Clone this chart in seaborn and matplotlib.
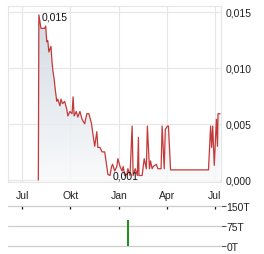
import matplotlib
matplotlib.use("Agg")
import matplotlib.pyplot as plt
import matplotlib.dates as mdates
from matplotlib.colors import LinearSegmentedColormap
import numpy as np
import pandas as pd
import seaborn as sns

# ---------------- data ----------------
price_dates = [
    "2023-08-01", "2023-08-02", "2023-08-06", "2023-08-13", "2023-08-15", "2023-08-17",
    "2023-08-19", "2023-08-21", "2023-08-25", "2023-08-27", "2023-08-29", "2023-08-31",
    "2023-09-02", "2023-09-05", "2023-09-07", "2023-09-11", "2023-09-13", "2023-09-16",
    "2023-09-20", "2023-09-24", "2023-09-26", "2023-09-30", "2023-10-04", "2023-10-06",
    "2023-10-08", "2023-10-12", "2023-10-15", "2023-10-19", "2023-10-23", "2023-10-28",
    "2023-11-01", "2023-11-05", "2023-11-10", "2023-11-12", "2023-11-16", "2023-11-20",
    "2023-11-22", "2023-11-26", "2023-11-30", "2023-12-05", "2023-12-09", "2023-12-11",
    "2023-12-15", "2023-12-18", "2023-12-20", "2023-12-24", "2023-12-28", "2023-12-30",
    "2024-01-03", "2024-01-07", "2024-01-09", "2024-01-12", "2024-01-16", "2024-01-18",
    "2024-01-22", "2024-01-26", "2024-01-28", "2024-02-01", "2024-02-05", "2024-02-07",
    "2024-02-08", "2024-02-14", "2024-02-18", "2024-02-22", "2024-02-24", "2024-02-28",
    "2024-03-01", "2024-03-04", "2024-03-06", "2024-03-12", "2024-03-15", "2024-03-21",
    "2024-03-23", "2024-03-27", "2024-03-29", "2024-04-02", "2024-04-04", "2024-04-08",
    "2024-06-19", "2024-06-23", "2024-06-25", "2024-06-27", "2024-06-30", "2024-07-04",
    "2024-07-06", "2024-07-07", "2024-07-11",
]
price_values = [
    0.0000, 0.0147, 0.0135, 0.0135, 0.0137, 0.0123,
    0.0124, 0.0114, 0.0119, 0.0105, 0.0096, 0.0090,
    0.0081, 0.0070, 0.0072, 0.0066, 0.0072, 0.0068,
    0.0070, 0.0063, 0.0057, 0.0061, 0.0059, 0.0074,
    0.0057, 0.0061, 0.0056, 0.0061, 0.0054, 0.0050,
    0.0059, 0.0059, 0.0050, 0.0043, 0.0030, 0.0043,
    0.0029, 0.0029, 0.0025, 0.0025, 0.0012, 0.0005,
    0.0004, 0.0012, 0.0014, 0.0008, 0.0012, 0.0019,
    0.0012, 0.0008, 0.0012, 0.0004, 0.0005, 0.0010,
    0.0004, 0.0048, 0.0004, 0.0010, 0.0004, 0.0038,
    0.0004, 0.0004, 0.0019, 0.0010, 0.0048, 0.0010,
    0.0017, 0.0010, 0.0012, 0.0014, 0.0010, 0.0010,
    0.0048, 0.0010, 0.0045, 0.0048, 0.0048, 0.0009,
    0.0009, 0.0048, 0.0029, 0.0048, 0.0013, 0.0054,
    0.0030, 0.0059, 0.0059,
]
volume_dates = ["2024-01-18", "2024-02-08"]
volume_values = [98000, 2500]
volume_colors = ["#1f8f1f", "#c0392b"]

month_ticks = ["2023-07-01", "2023-10-01", "2024-01-01", "2024-04-01", "2024-07-01"]
month_labels = ["Jul", "Okt", "Jan", "Apr", "Jul"]
price_ticks = [0.000, 0.005, 0.010, 0.015]
price_tick_labels = ["0,000", "0,005", "0,010", "0,015"]
volume_ticks = [0, 75000, 150000]
volume_tick_labels = ["0T", "75T", "150T"]
max_label = "0,015"
min_label = "0,001"

# ---------------- style ----------------
sns.set_style("white")
plt.rcParams["font.family"] = ["Liberation Sans", "DejaVu Sans"]
plt.rcParams["font.size"] = 7.5

df = pd.DataFrame({"date": pd.to_datetime(price_dates), "price": price_values})
vdf = pd.DataFrame({"date": pd.to_datetime(volume_dates), "volume": volume_values,
                    "color": volume_colors})

W, H = 264, 255
fig = plt.figure(figsize=(W / 100, H / 100), dpi=100)
ax = fig.add_axes([8 / W, 1 - 183 / H, 213 / W, 176 / H])
ax2 = fig.add_axes([8 / W, 1 - 247.3 / H, 213 / W, 40 / H])

x_left = pd.Timestamp("2023-06-04 10:00")
x_right = pd.Timestamp("2024-07-12 18:00")
y_lo, y_hi = -0.00018, 0.01549

line_color = "#c43a3a"
grid_color = "#e6e6e6"

# gradient fill under line
xnum = mdates.date2num(df["date"])
coll = ax.fill_between(xnum, df["price"], y_lo, facecolor="none", edgecolor="none")
clip_path = coll.get_paths()[0]
grad = np.linspace(0, 1, 256).reshape(-1, 1)
cmap = LinearSegmentedColormap.from_list("g", ["#f9fafb", "#c7d3dd"])
im = ax.imshow(grad, extent=[mdates.date2num(x_left), mdates.date2num(x_right), y_lo, y_hi],
               origin="lower", aspect="auto", cmap=cmap, zorder=1, alpha=0.85)
im.set_clip_path(clip_path, transform=ax.transData)

sns.lineplot(data=df, x="date", y="price", ax=ax, color=line_color, linewidth=0.9,
             zorder=3, sort=False)

ax.set_xlim(x_left, x_right)
ax.set_ylim(y_lo, y_hi)
ax.set_xlabel("")
ax.set_ylabel("")

ax.set_xticks(pd.to_datetime(month_ticks))
ax.set_xticklabels(month_labels)
ax.set_yticks(price_ticks)
ax.set_yticklabels(price_tick_labels)
ax.yaxis.tick_right()
ax.tick_params(axis="both", length=0, colors="#222222", labelsize=7.5)
ax.tick_params(axis="y", pad=3.5)
ax.tick_params(axis="x", pad=6)
ax.grid(True, color=grid_color, linewidth=0.8)
ax.set_axisbelow(True)
for s in ax.spines.values():
    s.set_color(grid_color)
    s.set_linewidth(0.8)

# max / min labels
imax = int(np.argmax(price_values))
nonzero = [v if v > 0 else np.inf for v in price_values]
imin = int(np.argmin(nonzero))
ax.annotate(max_label, (df["date"][imax], price_values[imax]), xytext=(3, -2),
            textcoords="offset pixels", ha="left", va="center", fontsize=7.5, color="#111111",
            zorder=5)
ax.annotate(min_label, (df["date"][imin], price_values[imin]), xytext=(3, 0),
            textcoords="offset pixels", ha="left", va="center", fontsize=7.5, color="#111111",
            zorder=5)

# ---------------- volume panel ----------------
for d, v, c in zip(vdf["date"], vdf["volume"], vdf["color"]):
    ax2.bar(d, v, width=2.4, color=c, edgecolor="none", linewidth=0, zorder=3)
ax2.set_xlim(x_left, x_right)
ax2.set_ylim(0, 150000)
for v in volume_ticks:
    ax2.axhline(v, color="#cccccc", linewidth=0.9, zorder=1, clip_on=False)
for s in ax2.spines.values():
    s.set_visible(False)
ax2.yaxis.tick_right()
ax2.set_yticks(volume_ticks)
ax2.set_yticklabels(volume_tick_labels)
ax2.tick_params(axis="y", length=3.5, width=0.8, color="#555555", pad=0.5,
                labelsize=7.5, labelcolor="#222222")
ax2.xaxis.tick_top()
ax2.set_xticks(pd.to_datetime(month_ticks))
ax2.tick_params(axis="x", direction="in", length=2.5, width=0.9, color="#111111",
                labeltop=False, labelbottom=False)
ax2.set_xlabel("")
ax2.set_ylabel("")

fig.savefig("out.png", dpi=100)
